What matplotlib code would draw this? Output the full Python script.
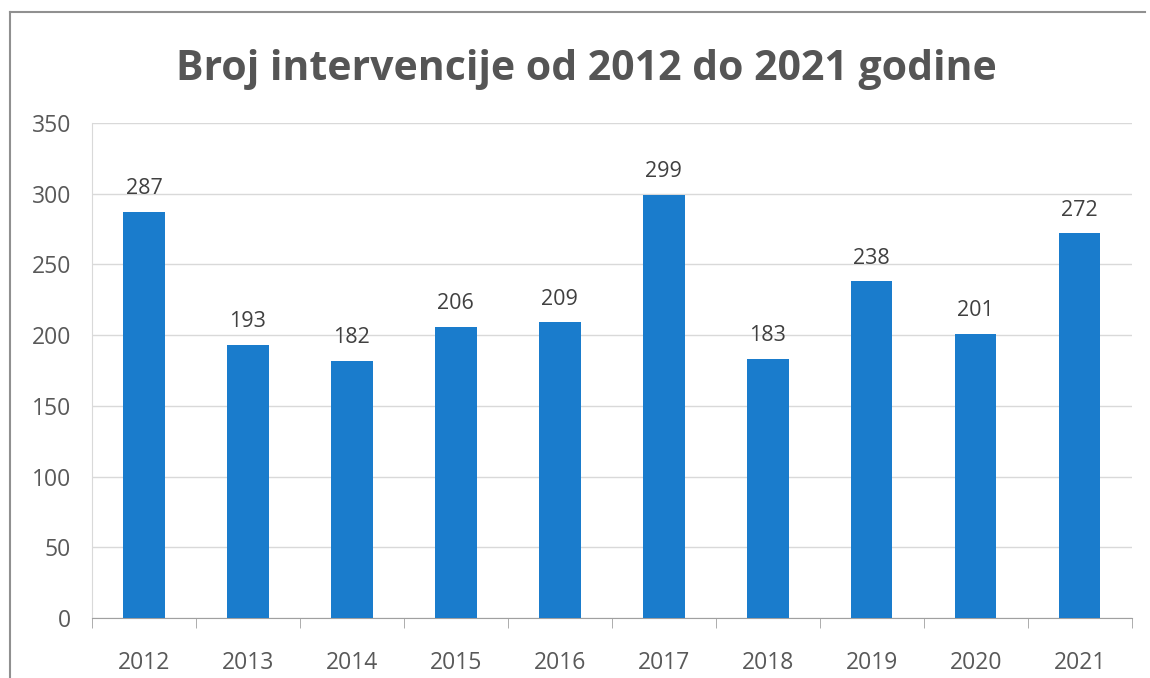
import matplotlib
matplotlib.use("Agg")
import matplotlib.pyplot as plt
from matplotlib.lines import Line2D

years = ["2012", "2013", "2014", "2015", "2016", "2017", "2018", "2019", "2020", "2021"]
values = [287, 193, 182, 206, 209, 299, 183, 238, 201, 272]
yticks = [0, 50, 100, 150, 200, 250, 300, 350]
title = "Broj intervencije od 2012 do 2021 godine"

plt.rcParams['font.family'] = ['Open Sans', 'DejaVu Sans']
txt = '#595959'

fig = plt.figure(figsize=(11.5, 6.78), dpi=100)
ax = fig.add_axes([0.08, 0.0885, 0.904, 0.730])

x = list(range(len(years)))
bars = ax.bar(x, values, width=0.4, color='#1a7ccc', zorder=3)
for xi, v in zip(x, values):
    ax.text(xi, v + 9, str(v), ha='center', va='bottom', fontsize=15.5, color='#404040', zorder=4)

ax.set_xlim(-0.5, len(years) - 0.5)
ax.set_ylim(0, 350)
ax.set_yticks(yticks)
ax.set_yticklabels([str(t) for t in yticks], fontsize=16.5, color=txt)
ax.set_xticks(x)
ax.set_xticklabels(years, fontsize=16.5, color=txt)
ax.tick_params(axis='y', length=0, pad=15)
ax.tick_params(axis='x', length=0, pad=24)
ax.set_xticks([i - 0.5 for i in range(len(years) + 1)], minor=True)
ax.tick_params(axis='x', which='minor', length=7, color='#a0a0a0')
ax.grid(axis='y', color='#d9d9d9', linewidth=1, zorder=0)
for s in ['top', 'right']:
    ax.spines[s].set_visible(False)
ax.spines['left'].set_color('#d9d9d9')
ax.spines['bottom'].set_color('#a0a0a0')

fig.text(0.51, 0.897, title, ha='center', va='center', fontsize=29.5, fontweight='bold', color='#555555')

# outer chart border
fig.add_artist(Line2D([10/1150, 10/1150], [1 - 12/678, 0], color='#909090', lw=1.5, transform=fig.transFigure))
fig.add_artist(Line2D([10/1150, 1145/1150], [1 - 12/678, 1 - 12/678], color='#909090', lw=1.5, transform=fig.transFigure))

fig.savefig("out.png", dpi=100)
